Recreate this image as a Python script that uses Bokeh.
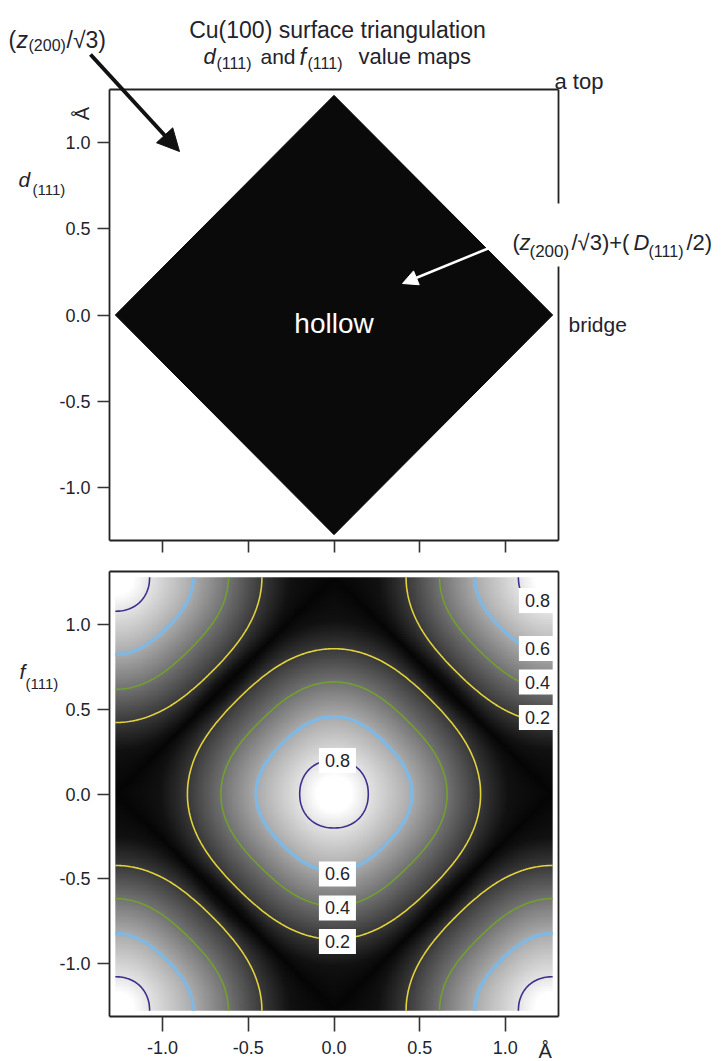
import numpy as np
from bokeh.plotting import figure
from bokeh.layouts import column
from bokeh.models import (Label, Arrow, NormalHead, LinearAxis, FixedTicker,
                          LinearColorMapper, Range1d, BoxAnnotation)
from bokeh.palettes import Greys256
from bokeh.embed import file_html
from bokeh.resources import INLINE

# ---------------- data ----------------
HALF_CELL = 1.276                      # Å, half nearest-neighbour distance on Cu(100)
AXIS_LIMIT = 1.31                      # Å, plotted range
TICKS = [-1.0, -0.5, 0.0, 0.5, 1.0]
TICK_LABELS = ["-1.0", "-0.5", "0.0", "0.5", "1.0"]

# d(111) map: region with value (z200/√3)+(D111/2) (black square around the hollow site)
D_MAP_X = [-1.276, 0.0, 1.276, 0.0]
D_MAP_Y = [0.0, 1.276, 0.0, -1.276]

# f(111) map: contour levels, and distances (Å) from a hollow site at which f(111)
# reaches the values F_PROFILE, read towards the bridge site and along the diagonal
LEVELS = [0.2, 0.4, 0.6, 0.8]
F_PROFILE = [1.0, 0.8, 0.6, 0.4, 0.2, 0.06, 0.02]
R_BRIDGE = [0.0, 0.200, 0.455, 0.660, 0.855, 1.020]
R_DIAGONAL = [0.0, 0.205, 0.424, 0.608, 0.792, 0.860]
HOLLOW_X = [0.0, 1.276, -1.276, 1.276, -1.276]
HOLLOW_Y = [0.0, 1.276, 1.276, -1.276, -1.276]

# contour labels
CLABEL_TEXT = ["0.8", "0.6", "0.4", "0.2", "0.8", "0.6", "0.4", "0.2"]
CLABEL_X = [0.02, 0.02, 0.02, 0.02, 1.187, 1.187, 1.187, 1.187]
CLABEL_Y = [0.197, -0.471, -0.671, -0.868, 1.139, 0.857, 0.659, 0.450]

# ---------------- styles / layout ----------------
LEVEL_COLORS = ["#e2d33c", "#72a02e", "#80b8e4", "#3d2f8e"]
LEVEL_WIDTHS = [1.6, 1.6, 3.4, 1.6]
FONT = "Liberation Sans"
TXT = "#23232b"
FRAME_COLOR = "#222222"

PAGE_W, PAGE_H = 725, 1061
B_LEFT, B_RIGHT, FRAME_W = 109, 167, 449
T_TOP, T_FRAME_H, T_BOTTOM = 89, 451, 16
B_TOP, B_FRAME_H, B_BOTTOM = 15, 445, 45
L = AXIS_LIMIT


def make_fig(border_top, frame_h, border_bottom):
    p = figure(frame_width=FRAME_W, frame_height=frame_h,
               x_range=Range1d(-L, L), y_range=Range1d(-L, L),
               output_backend="svg", toolbar_location=None,
               min_border_left=B_LEFT, min_border_right=B_RIGHT,
               min_border_top=border_top, min_border_bottom=border_bottom)
    p.outline_line_color = None
    p.grid.visible = False
    p.background_fill_color = "white"
    p.border_fill_color = "white"
    for ax in list(p.xaxis) + list(p.yaxis):
        ax.ticker = FixedTicker(ticks=TICKS)
        ax.major_label_overrides = dict(zip(TICKS, TICK_LABELS))
        ax.major_tick_out = 12
        ax.major_tick_in = 0
        ax.minor_tick_line_color = None
        ax.major_tick_line_color = "#333333"
        ax.major_tick_line_width = 1.6
        ax.axis_line_color = FRAME_COLOR
        ax.axis_line_width = 1.8
        ax.major_label_text_font = FONT
        ax.major_label_text_font_size = "18px"
        ax.major_label_text_color = TXT
        ax.major_label_standoff = 7
    for loc in ("above", "right"):
        ax = LinearAxis(ticker=FixedTicker(ticks=[]), axis_line_color=FRAME_COLOR,
                        axis_line_width=1.8, major_tick_line_color=None,
                        minor_tick_line_color=None)
        p.add_layout(ax, loc)
    return p


# ---------------- top panel: d(111) ----------------
p1 = make_fig(T_TOP, T_FRAME_H, T_BOTTOM)
p1.xaxis.major_label_overrides = {t: "" for t in TICKS}
p1.xaxis.major_label_text_font_size = "0px"
p1.xaxis.major_label_standoff = 0
p1.patch(D_MAP_X, D_MAP_Y, fill_color="#0a0a0a", line_color="#0a0a0a", line_width=1)

# ---------------- bottom panel: f(111) ----------------
n = 257
g = np.linspace(-HALF_CELL, HALF_CELL, n)
X, Y = np.meshgrid(g, g)
hx, hy = np.array(HOLLOW_X), np.array(HOLLOW_Y)
d2 = (X[..., None] - hx) ** 2 + (Y[..., None] - hy) ** 2
k = d2.argmin(axis=-1)
dx, dy = np.abs(X - hx[k]), np.abs(Y - hy[k])
r = np.hypot(dx, dy)
theta = np.arctan2(np.minimum(dx, dy), np.maximum(dx, dy))
w = 0.5 * (1 - np.cos(4 * theta))
radii = [(1 - w) * a + w * b for a, b in zip(R_BRIDGE, R_DIAGONAL)]
radii.append(HALF_CELL / (np.cos(theta) + np.sin(theta)))
Z = np.full(r.shape, F_PROFILE[-1])
for i in range(len(radii) - 1):
    r0, r1 = radii[i], radii[i + 1]
    inside = (r >= r0) & (r < r1)
    t = np.clip((r - r0) / np.maximum(r1 - r0, 1e-9), 0, 1)
    Z = np.where(inside, F_PROFILE[i] + t * (F_PROFILE[i + 1] - F_PROFILE[i]), Z)

p2 = make_fig(B_TOP, B_FRAME_H, B_BOTTOM)
p2.xaxis.major_tick_out = 15
p2.xaxis.major_label_standoff = 9
mapper = LinearColorMapper(palette=Greys256, low=0.0, high=0.9)
p2.image(image=[Z], x=-HALF_CELL, y=-HALF_CELL, dw=2 * HALF_CELL, dh=2 * HALF_CELL,
         color_mapper=mapper)
p2.contour(x=g, y=g, z=Z, levels=LEVELS, line_color=LEVEL_COLORS, line_width=LEVEL_WIDTHS)

for s, cx, cy in zip(CLABEL_TEXT, CLABEL_X, CLABEL_Y):
    p2.add_layout(Label(x=cx, y=cy, text=s, text_font=FONT, text_font_size="18px",
                        text_color=TXT, text_align="center", text_baseline="middle",
                        background_fill_color="white", padding=6))

# ---------------- transparent overlay for annotations (page pixel coordinates) -------------
ov = figure(width=PAGE_W, height=PAGE_H, x_range=Range1d(0, PAGE_W),
            y_range=Range1d(PAGE_H, 0), output_backend="svg", toolbar_location=None,
            x_axis_location=None, y_axis_location=None, min_border=0,
            styles={"position": "absolute", "top": "0px", "left": "0px",
                    "z-index": "10", "pointer-events": "none"})
ov.frame_align = False
ov.grid.visible = False
ov.outline_line_color = None
ov.background_fill_color = None
ov.border_fill_color = None


def text(px, py, s, size, style="normal", color=TXT, align="left",
         baseline="alphabetic", angle=0.0):
    ov.add_layout(Label(x=px, y=py, text=s, text_font=FONT, text_font_size=f"{size}px",
                        text_font_style=style, text_color=color, text_align=align,
                        text_baseline=baseline, angle=angle))


# title
text(337, 29, "Cu(100) surface triangulation", 23, align="center")
text(203, 56, "d", 22, style="italic")
text(216, 63, "(111)", 16)
text(260, 56, "and", 21)
text(299, 56, "f", 23, style="italic")
text(307, 63, "(111)", 16)
text(358, 56, "value maps", 22)

# (z200/√3) label + arrow
text(8, 39, "(", 23)
text(16, 39, "z", 23, style="italic")
text(28, 45, "(200)", 16)
text(66, 39, "/√3)", 23)
ov.add_layout(Arrow(x_start=90, y_start=54, x_end=179, y_end=151, line_width=4,
                    line_color="#111111",
                    end=NormalHead(size=22, fill_color="#111111", line_color="#111111")))

# a top / bridge
text(554, 81, "a top", 22)
text(568, 324, "bridge", 21)

# (z200/√3)+(D111/2) label (white patch hides the frame line behind it) + white arrow
ov.add_layout(BoxAnnotation(left=549, right=567, top=203, bottom=266,
                            fill_color="white", fill_alpha=1.0, line_color=None))
text(512, 242, "(", 22)
text(519, 242, "z", 22, style="italic")
text(529, 251, "(200)", 17)
text(571, 242, "/√3)+(", 22)
text(633, 242, "D", 22, style="italic")
text(648, 251, "(111)", 16)
text(686, 242, "/2)", 22)
ov.add_layout(Arrow(x_start=490, y_start=247, x_end=402, y_end=283, line_width=2.5,
                    line_color="white",
                    end=NormalHead(size=15, fill_color="white", line_color="white")))

# hollow, axis labels
text(333.5, 323, "hollow", 28, color="white", align="center")
text(81, 113, "Å", 20, align="center", baseline="middle", angle=np.pi / 2)
text(18, 179, "d", 21, style="italic")
text(32, 189, "(111)", 15)
text(19, 671, "f", 21, style="italic")
text(25, 683, "(111)", 15)
text(538, 1050, "Å", 20)

layout = column(p1, p2, ov, spacing=0)
open("out.html", "w").write(file_html(layout, INLINE))
